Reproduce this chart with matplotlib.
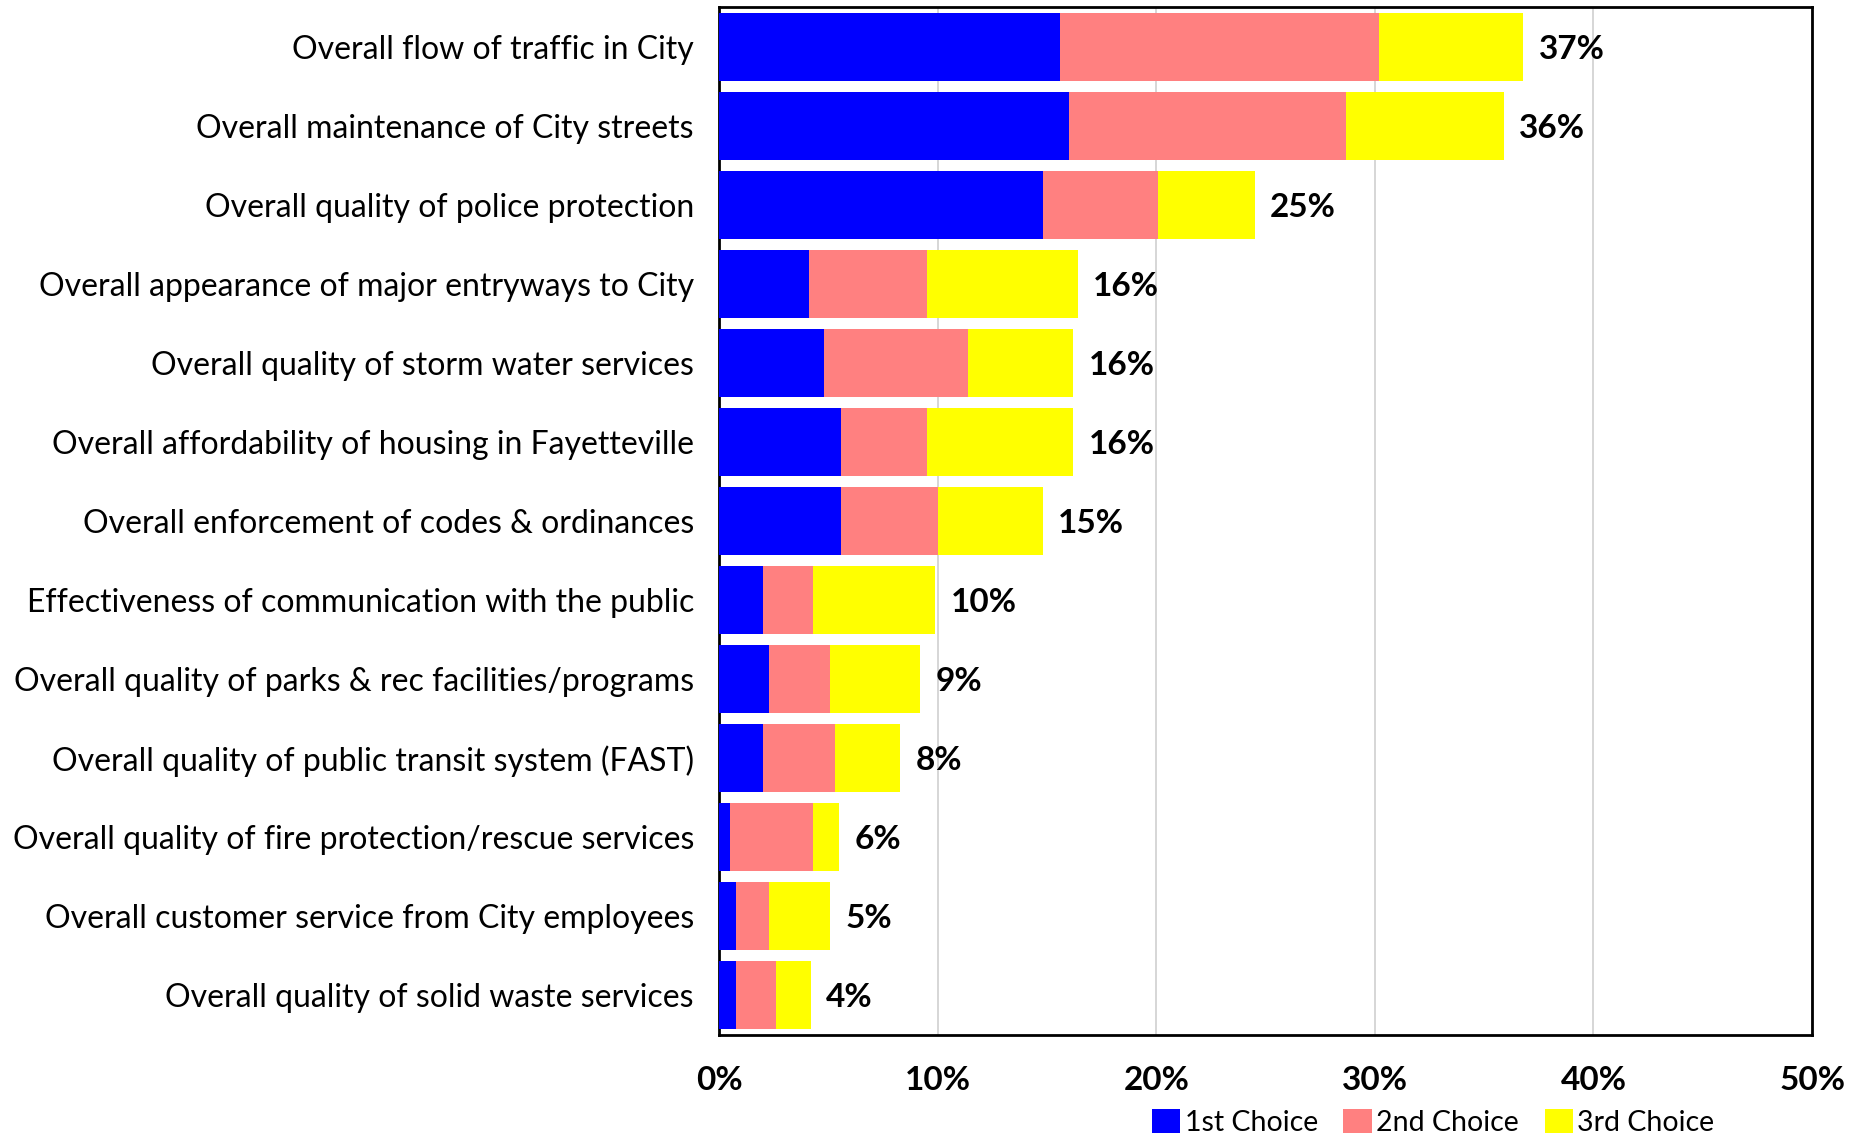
import numpy as np
import matplotlib
matplotlib.use('Agg')
import matplotlib.pyplot as plt
from matplotlib.ticker import PercentFormatter

# share of respondents (percent) naming each item as a top-3 priority
categories = [
    'Overall flow of traffic in City',
    'Overall maintenance of City streets',
    'Overall quality of police protection',
    'Overall appearance of major entryways to City',
    'Overall quality of storm water services',
    'Overall affordability of housing in Fayetteville',
    'Overall enforcement of codes & ordinances',
    'Effectiveness of communication with the public',
    'Overall quality of parks & rec facilities/programs',
    'Overall quality of public transit system (FAST)',
    'Overall quality of fire protection/rescue services',
    'Overall customer service from City employees',
    'Overall quality of solid waste services',
]
first = [15.6, 16.0, 14.8, 4.1, 4.8, 5.6, 5.6, 2.0, 2.3, 2.0, 0.5, 0.8, 0.8]
second = [14.6, 12.7, 5.3, 5.4, 6.6, 3.9, 4.4, 2.3, 2.8, 3.3, 3.8, 1.5, 1.8]
third = [6.6, 7.2, 4.4, 6.9, 4.8, 6.7, 4.8, 5.6, 4.1, 3.0, 1.2, 2.8, 1.6]
totals = [37, 36, 25, 16, 16, 16, 15, 10, 9, 8, 6, 5, 4]

series_names = ['1st Choice', '2nd Choice', '3rd Choice']
colors = ['#0000FF', '#FF8080', '#FFFF00']

plt.rcParams['font.family'] = ['Lato', 'DejaVu Sans']

fig = plt.figure(figsize=(18.66, 11.42), dpi=100)
ax = fig.add_axes([0.3853, 0.0937, 0.5858, 0.9002])

y = np.arange(len(categories))
left = np.zeros(len(categories))
for vals, name, col in zip([first, second, third], series_names, colors):
    ax.barh(y, vals, left=left, height=0.86, color=col, label=name, zorder=3)
    left = left + np.array(vals)

# total labels just past the end of each stacked bar
for yi, end, tot in zip(y, left, totals):
    ax.text(end + 0.7, yi, f'{tot}%', va='center_baseline', ha='left',
            fontsize=24, fontweight='bold', color='black')

ax.set_ylim(len(categories) - 0.5, -0.5)
ax.set_xlim(0, 50)
ax.set_xticks([0, 10, 20, 30, 40, 50])
ax.xaxis.set_major_formatter(PercentFormatter(decimals=0))
ax.set_yticks(y)
ax.set_yticklabels(categories, fontsize=23)
ax.tick_params(axis='y', length=0, pad=18)
ax.tick_params(axis='x', length=0, pad=22, labelsize=24)
for lab in ax.get_xticklabels():
    lab.set_fontweight('bold')

ax.grid(axis='x', color='#D0D0D0', linewidth=1.2, zorder=0)
for sp in ax.spines.values():
    sp.set_linewidth(2.0)
    sp.set_color('black')

fig.legend(loc='center', bbox_to_anchor=(0.768, 0.017), ncol=3, frameon=False,
           fontsize=20.5, handlelength=1.0, handleheight=0.9, handletextpad=0.15,
           columnspacing=0.9, borderaxespad=0, borderpad=0.1)

fig.savefig('out.png', dpi=100)
